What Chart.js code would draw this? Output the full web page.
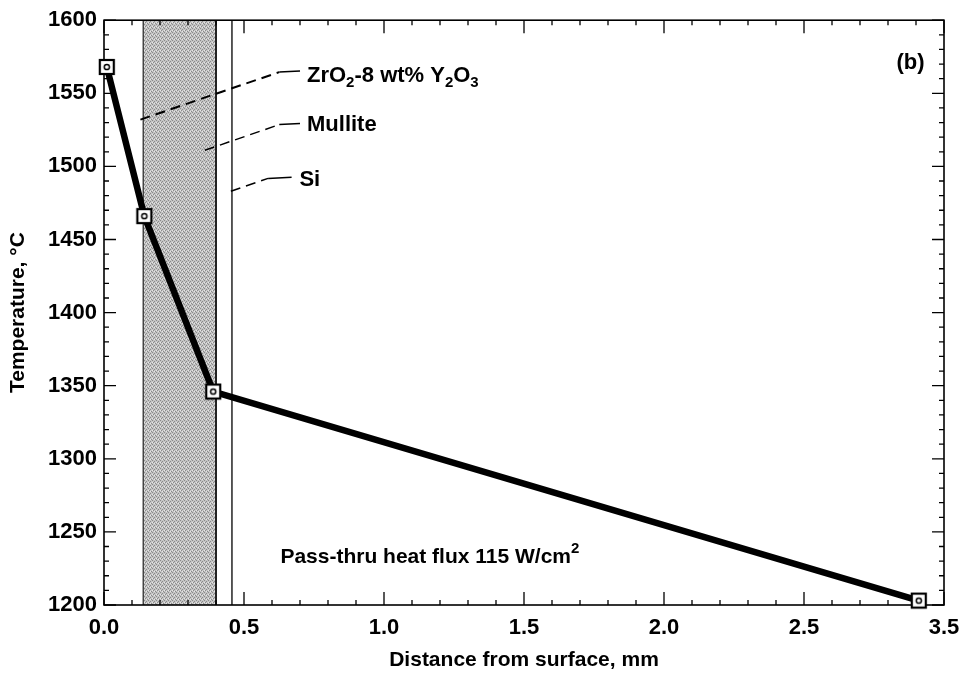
<!DOCTYPE html>
<html>
<head>
<meta charset="utf-8">
<script src="https://cdn.jsdelivr.net/npm/chart.js@4/dist/chart.umd.min.js"></script>
<style>
  html, body { margin: 0; padding: 0; background: #fff; }
  #wrap { width: 966px; height: 673px; }
</style>
</head>
<body>
<div id="wrap"><canvas id="chart"></canvas></div>
<script>
// values (x in axis units, as drawn)
const distance = [0.01, 0.144, 0.39, 2.91];
const temperature = [1568, 1466, 1346, 1203];
const xTickLabels = ['0.0', '0.5', '1.0', '1.5', '2.0', '2.5', '3.5'];
const mulliteBand = [0.14, 0.40];
const siLine = 0.457;

// leader lines: [start, bend, end] in data units, then label
const leaders = [
  { pts: [[0.13, 1532], [0.626, 1564.5], [0.70, 1565.3]], at: [0.725, 1562], parts: [['ZrO'], ['2', 'sub'], ['-8 wt% Y'], ['2', 'sub'], ['O'], ['3', 'sub']] },
  { pts: [[0.36, 1511], [0.626, 1528.6], [0.70, 1529.3]], at: [0.725, 1528.6], parts: [['Mullite']] },
  { pts: [[0.453, 1483], [0.586, 1491.8], [0.67, 1492.5]], at: [0.698, 1491], parts: [['Si']] }
];
const fluxNote = { at: [0.63, 1233], parts: [['Pass-thru heat flux 115 W/cm'], ['2', 'sup']] };
const panelTag = { at: [2.83, 1571], parts: [['(b)']] };

const FONT = '"Liberation Sans", Arial, sans-serif';

function markerImage() {
  const c = document.createElement('canvas');
  c.width = 18; c.height = 18;
  const g = c.getContext('2d');
  g.fillStyle = '#fff';
  g.fillRect(1, 1, 16, 16);
  g.strokeStyle = '#000';
  g.lineWidth = 2.2;
  g.strokeRect(2, 2, 14, 14);
  g.lineWidth = 1.5;
  g.beginPath();
  g.arc(9, 9, 2.6, 0, Math.PI * 2);
  g.stroke();
  return c;
}

function stipple(ctx) {
  const c = document.createElement('canvas');
  c.width = 4; c.height = 4;
  const g = c.getContext('2d');
  g.fillStyle = '#c4c4c4';
  g.fillRect(0, 0, 4, 4);
  g.fillStyle = '#8a8a8a';
  [[0, 0], [2, 1], [1, 2], [3, 3]].forEach(p => g.fillRect(p[0], p[1], 1, 1));
  g.fillStyle = '#e6e6e6';
  [[2, 3], [0, 2]].forEach(p => g.fillRect(p[0], p[1], 1, 1));
  return ctx.createPattern(c, 'repeat');
}

function drawParts(ctx, parts, x, y, size) {
  ctx.textBaseline = 'middle';
  ctx.textAlign = 'left';
  parts.forEach(p => {
    const small = p[1] === 'sub' || p[1] === 'sup';
    ctx.font = 'bold ' + (small ? Math.round(size * 0.7) : size) + 'px ' + FONT;
    const dy = p[1] === 'sub' ? size * 0.32 : p[1] === 'sup' ? -size * 0.38 : 0;
    ctx.fillText(p[0], x, y + dy);
    x += ctx.measureText(p[0]).width;
  });
}

const decorations = {
  id: 'decorations',
  beforeDatasetsDraw(chart) {
    const { ctx, chartArea: a, scales: { x, y } } = chart;
    ctx.save();
    // mullite band
    const b0 = x.getPixelForValue(mulliteBand[0]);
    const b1 = x.getPixelForValue(mulliteBand[1]);
    ctx.fillStyle = stipple(ctx);
    ctx.fillRect(b0, a.top, b1 - b0, a.bottom - a.top);
    ctx.strokeStyle = '#222';
    ctx.lineWidth = 1.2;
    ctx.beginPath();
    ctx.moveTo(b0, a.top); ctx.lineTo(b0, a.bottom);
    ctx.stroke();
    ctx.lineWidth = 2;
    ctx.beginPath();
    ctx.moveTo(b1, a.top); ctx.lineTo(b1, a.bottom);
    ctx.stroke();
    // Si interface
    const s = x.getPixelForValue(siLine);
    ctx.lineWidth = 1.3;
    ctx.strokeStyle = '#000';
    ctx.beginPath();
    ctx.moveTo(s, a.top); ctx.lineTo(s, a.bottom);
    ctx.stroke();
    // leaders
    leaders.forEach((l, k) => {
      const p = l.pts.map(q => [x.getPixelForValue(q[0]), y.getPixelForValue(q[1])]);
      ctx.lineWidth = k === 0 ? 2 : 1.5;
      ctx.setLineDash([10, 6]);
      ctx.beginPath();
      ctx.moveTo(p[0][0], p[0][1]); ctx.lineTo(p[1][0], p[1][1]);
      ctx.stroke();
      ctx.setLineDash([]);
      ctx.lineWidth = 1.5;
      ctx.beginPath();
      ctx.moveTo(p[1][0], p[1][1]); ctx.lineTo(p[2][0], p[2][1]);
      ctx.stroke();
    });
    // frame
    ctx.lineWidth = 1.6;
    ctx.strokeRect(a.left, a.top, a.right - a.left, a.bottom - a.top);
    // inward ticks
    ctx.lineWidth = 1.3;
    ctx.beginPath();
    for (let i = 0; i <= 30; i++) {
      const px = x.getPixelForValue(i / 10);
      const len = i % 5 === 0 ? 13 : 5;
      ctx.moveTo(px, a.bottom); ctx.lineTo(px, a.bottom - len);
      ctx.moveTo(px, a.top); ctx.lineTo(px, a.top + len);
    }
    for (let v = 1200; v <= 1600; v += 10) {
      const py = y.getPixelForValue(v);
      const len = v % 50 === 0 ? 12 : 5;
      ctx.moveTo(a.left, py); ctx.lineTo(a.left + len, py);
      ctx.moveTo(a.right, py); ctx.lineTo(a.right - len, py);
    }
    ctx.stroke();
    ctx.restore();
  },
  afterDraw(chart) {
    const { ctx, scales: { x, y } } = chart;
    ctx.save();
    ctx.fillStyle = '#000';
    leaders.forEach(l => drawParts(ctx, l.parts, x.getPixelForValue(l.at[0]), y.getPixelForValue(l.at[1]), 22));
    drawParts(ctx, fluxNote.parts, x.getPixelForValue(fluxNote.at[0]), y.getPixelForValue(fluxNote.at[1]), 21);
    drawParts(ctx, panelTag.parts, x.getPixelForValue(panelTag.at[0]), y.getPixelForValue(panelTag.at[1]), 22);
    ctx.restore();
  }
};

new Chart(document.getElementById('chart'), {
  type: 'line',
  data: {
    datasets: [{
      data: distance.map((d, i) => ({ x: d, y: temperature[i] })),
      borderColor: '#000',
      borderWidth: 6.5,
      pointStyle: markerImage(),
      pointRadius: 9,
      clip: false
    }]
  },
  options: {
    responsive: true,
    maintainAspectRatio: false,
    animation: false,
    layout: { padding: { top: 17, right: 22, left: 0, bottom: 0 } },
    plugins: { legend: { display: false }, tooltip: { enabled: false } },
    scales: {
      x: {
        type: 'linear',
        min: 0, max: 3.0,
        afterFit(s) { s.height = 68; s.paddingRight = 0; s.paddingLeft = 0; },
        grid: { display: false, drawTicks: false },
        border: { display: false },
        ticks: {
          stepSize: 0.5,
          padding: 10,
          color: '#000',
          font: { family: FONT, size: 22, weight: 'bold' },
          callback: (v, i) => xTickLabels[i]
        },
        title: {
          display: true,
          text: 'Distance from surface, mm',
          color: '#000',
          font: { family: FONT, size: 21, weight: 'bold' },
          padding: { top: 0, bottom: 0 }
        }
      },
      y: {
        min: 1200, max: 1600,
        afterFit(s) { s.width = 104; },
        grid: { display: false, drawTicks: false },
        border: { display: false },
        ticks: {
          stepSize: 50,
          padding: 7,
          color: '#000',
          font: { family: FONT, size: 22, weight: 'bold' },
          callback: v => String(v)
        },
        title: {
          display: true,
          text: 'Temperature, °C',
          color: '#000',
          font: { family: FONT, size: 21, weight: 'bold' },
          padding: { top: 6, bottom: 0 }
        }
      }
    }
  },
  plugins: [decorations]
});
</script>
</body>
</html>
